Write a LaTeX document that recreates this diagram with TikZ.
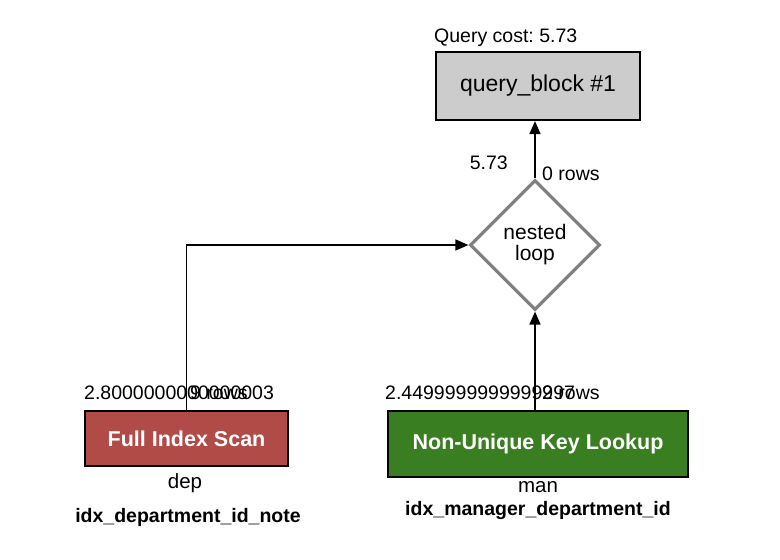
\documentclass[tikz,border=0pt]{standalone}
\usepackage{fontspec}
\setmainfont{Liberation Sans}
\usepackage{tikz}
\usetikzlibrary{arrows.meta,shapes,calc}

\definecolor{qbgray}{HTML}{CCCCCC}
\definecolor{scanred}{HTML}{B14B47}
\definecolor{lookupgreen}{HTML}{3A7E22}
\definecolor{loopgray}{HTML}{808080}
\frenchspacing

\begin{document}
\begin{tikzpicture}[x=1pt,y=-1pt,
    label/.style={font=\fontsize{19.5}{22}\selectfont,inner sep=0pt},
    opbox/.style={draw=black,line width=2.2pt,inner sep=0pt,text=white,
      font=\bfseries\fontsize{21.5}{24}\selectfont},
    flow/.style={line width=1.6pt,-{Triangle[length=13pt,width=11pt]}}]
    \useasboundingbox (0,0) rectangle (780,560);
		% query block
		\node[label,anchor=west] (qcost) at (434,38) {Query cost: 5.73};
		\node[draw=black,fill=qbgray,line width=2.2pt,minimum width=204pt,minimum height=68pt,
		  font=\fontsize{23}{26}\selectfont] (qb) at (538,86) {query\_block \#1};
		% join
		\node[diamond,draw=loopgray,fill=white,line width=3.2pt,minimum width=130pt,minimum height=130pt,
		  inner sep=0pt,align=center,font=\fontsize{21}{21}\selectfont] (loop) at (535,245) {nested\\loop};
		\node[label,anchor=east] (loopcost) at (508,163) {5.73};
		\node[label,anchor=west] (looprows) at (542,174) {0 rows};
		% tables
		\node[opbox,fill=scanred,minimum width=203pt,minimum height=55pt] (fis) at (186.5,438.5) {Full Index Scan};
		\node[opbox,fill=lookupgreen,minimum width=300pt,minimum height=66pt] (nukl) at (538,444) {Non-Unique Key Lookup};
		\node[label,anchor=west] (fiscost) at (84,393) {2.8000000000000003};
		\node[label,anchor=west] (fisrows) at (190,393) {9 rows};
		\node[label,anchor=west] (nuklcost) at (385,393) {2.4499999999999997};
		\node[label,anchor=west] (nuklrows) at (542,393) {2 rows};
		\node[label,font=\fontsize{20.5}{22}\selectfont] (dep) at (185,483) {dep};
		\node[label,font=\bfseries\fontsize{19.5}{22}\selectfont] (depidx) at (188,517) {idx\_department\_id\_note};
		\node[label,font=\fontsize{20.5}{22}\selectfont] (man) at (538,487) {man};
		\node[label,font=\bfseries\fontsize{19.5}{22}\selectfont] (manidx) at (538,510) {idx\_manager\_department\_id};
		% edges
		\draw[flow] (loop.north) -- (loop.north |- qb.south);
		\draw[flow] (fis.north) |- (loop.west);
		\draw[flow] (nukl.north -| loop.south) -- (loop.south);
\end{tikzpicture}
\end{document}
